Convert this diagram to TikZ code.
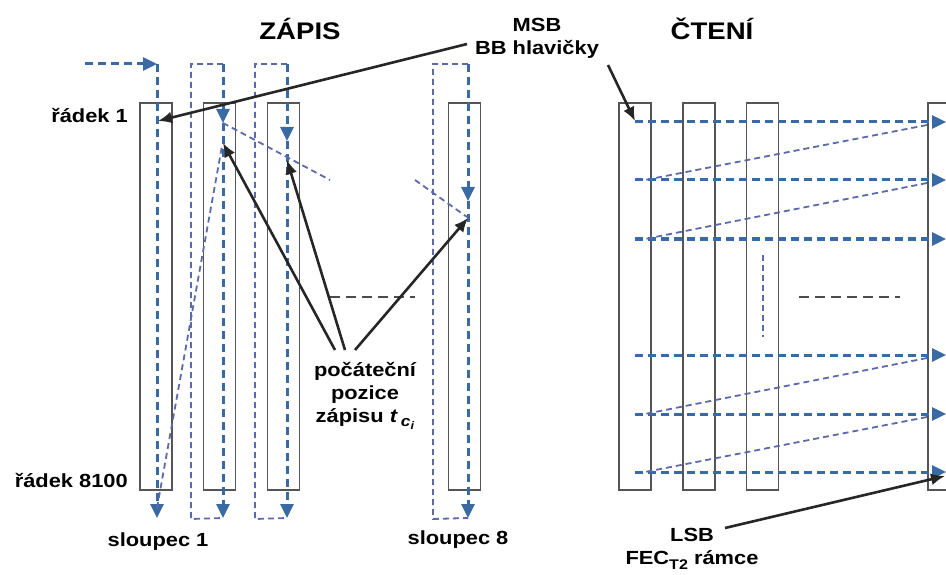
\documentclass[tikz,border=0pt]{standalone}
\usepackage{fontspec}
\setmainfont{Liberation Sans}[FakeStretch=1.15]
\usetikzlibrary{arrows.meta}
\definecolor{rowblue}{RGB}{58,106,163}
\definecolor{pathblue}{RGB}{92,106,172}
\definecolor{framegray}{RGB}{85,85,85}
\begin{document}
\begin{tikzpicture}[x=1pt,y=-1pt,
    col/.style={draw=framegray,line width=1.2pt,minimum width=32pt,minimum height=387pt,inner sep=0pt},
    flow/.style={rowblue,line width=3pt,dash pattern=on 8pt off 5pt},
    flowtip/.style={flow,-{Triangle[length=14pt,width=13pt]}},
    link/.style={pathblue,line width=1.8pt,dash pattern=on 6pt off 4pt},
    pointer/.style={black!85,line width=2.6pt,-{Latex[length=14pt,width=12pt]}},
    gap/.style={black!70,line width=1.6pt,dash pattern=on 10pt off 6pt},
    lbl/.style={font=\fontsize{19}{23}\selectfont\bfseries,inner sep=0pt},
    title/.style={font=\fontsize{24}{28}\selectfont\bfseries,inner sep=0pt}]
  \clip (0,0) rectangle (946,575);

  % titles
  \node[title] (zapis) at (300,29) {ZÁPIS};
  \node[title] (cteni) at (712,29) {ČTENÍ};

  % columns, write side
  \node[col] (w1) at (156,296.5) {};
  \node[col] (w2) at (219.5,296.5) {};
  \node[col] (w3) at (283.5,296.5) {};
  \node[col] (w8) at (464.5,296.5) {};
  % columns, read side
  \node[col] (r1) at (635,296.5) {};
  \node[col] (r2) at (699,296.5) {};
  \node[col] (r3) at (762.5,296.5) {};
  \node[col] (r9) at (944,296.5) {};

  % write paths
  \coordinate (in) at (85,64);
  \coordinate (top1) at (157,64);  \coordinate (bot1) at (157,518);
  \coordinate (top2) at (223,64);  \coordinate (st2) at (223,123);
  \coordinate (bot2) at (223,518); \coordinate (lt2) at (191,64);  \coordinate (lb2) at (191,519);
  \coordinate (top3) at (287,64);  \coordinate (st3) at (287,141);
  \coordinate (bot3) at (287,518); \coordinate (lt3) at (255,64);  \coordinate (lb3) at (255,519);
  \coordinate (top8) at (468,64);  \coordinate (st8) at (468,201);
  \coordinate (bot8) at (468,518); \coordinate (lt8) at (433,64);  \coordinate (lb8) at (433,519);

  \draw[link] (top2) -- (lt2) -- (lb2) -- (bot2);
  \draw[link] (top3) -- (lt3) -- (lb3) -- (bot3);
  \draw[link] (top8) -- (lt8) -- (lb8) -- (bot8);

  \draw[flowtip] (in) -- (top1);
  \draw[flowtip] (top1) -- (bot1);
  \draw[flowtip] (top2) -- (st2);
  \draw[flowtip] (st2) -- (bot2);
  \draw[flowtip] (top3) -- (st3);
  \draw[flowtip] (st3) -- (bot3);
  \draw[flowtip] (top8) -- (st8);
  \draw[flowtip] (st8) -- (bot8);

  % start positions
  \coordinate (d1a) at (157,508); \coordinate (d1b) at (222,146);
  \draw[link] (d1a) -- (d1b);
  \coordinate (s2a) at (223,123); \coordinate (s2b) at (330,180);
  \draw[link] (s2a) -- (s2b);
  \coordinate (s8a) at (415,180); \coordinate (s8b) at (467,217);
  \draw[link] (s8a) -- (s8b);

  % omitted columns
  \coordinate (ga) at (330,297); \coordinate (gb) at (415,297);
  \draw[gap] (ga) -- (gb);
  \coordinate (gc) at (799,297); \coordinate (gd) at (900,297);
  \draw[gap] (gc) -- (gd);

  % read paths
  \foreach \y [count=\i] in {122,180,239,355,414,472} {
    \coordinate (ra\i) at (635,\y);
    \coordinate (rb\i) at (946,\y);
    \coordinate (rc\i) at (927,\y+3);
    \coordinate (rd\i) at (645,\y);
    \draw[flowtip] (ra\i) -- (rb\i);
  }
  \foreach \a/\b in {1/2,2/3,4/5,5/6}
    \draw[link] (rc\a) -- (rd\b);
  \coordinate (va) at (763,255); \coordinate (vb) at (763,337);
  \draw[link] (va) -- (vb);

  % labels
  \node[lbl,anchor=east] (row1) at (128,116) {řádek 1};
  \node[lbl,anchor=east] (row8100) at (128,480) {řádek 8100};
  \node[lbl] (sl1) at (158,542) {sloupec 1};
  \node[lbl] (sl8) at (458,540) {sloupec 8};
  \node[lbl,align=center] (msb) at (537,38) {MSB\\BB hlavičky};
  \node[lbl,align=center] (lsb) at (692,549) {LSB\\FEC\raisebox{-0.45ex}{\fontsize{14}{14}\selectfont T2} rámce};
  \node[lbl,align=center] (start) at (365,396) {počáteční\\pozice\\zápisu \textit{t}\,\raisebox{-0.4ex}{\fontsize{15}{15}\selectfont\textit{c}\raisebox{-0.35ex}{\fontsize{11}{11}\selectfont\textit{i}}}};

  % pointers
  \coordinate (m1) at (467,44);  \coordinate (h1) at (158,121);
  \coordinate (m2) at (608,65);  \coordinate (h9) at (635,121);
  \coordinate (l1) at (725,528); \coordinate (t9) at (945,476);
  \coordinate (p1) at (335,350); \coordinate (h2) at (223,143);
  \coordinate (p2) at (345,350); \coordinate (h3) at (287,160);
  \coordinate (p3) at (355,350); \coordinate (h8) at (468,218);
  \draw[pointer] (m1) -- (h1);
  \draw[pointer] (m2) -- (h9);
  \draw[pointer] (l1) -- (t9);
  \draw[pointer] (p1) -- (h2);
  \draw[pointer] (p2) -- (h3);
  \draw[pointer] (p3) -- (h8);
\end{tikzpicture}
\end{document}
